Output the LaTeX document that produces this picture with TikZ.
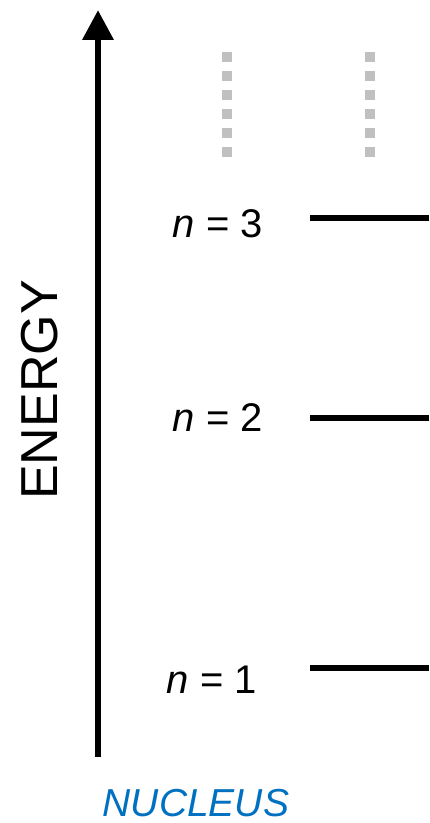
\documentclass[tikz,border=0pt]{standalone}
\usepackage{fontspec}
\setmainfont{Liberation Sans}
\usepackage{xcolor}
\usetikzlibrary{arrows.meta}
\definecolor{nucleusblue}{HTML}{0070C0}
\definecolor{dotgray}{HTML}{C0C0C0}

\begin{document}
\begin{tikzpicture}[x=0.5pt, y=-0.5pt, line join=round,
  level/.style={line width=2.6pt},
  lvllabel/.style={inner sep=0pt, font=\fontsize{20}{22}\selectfont}]
  \useasboundingbox (0,0) rectangle (429,823);
  \coordinate (O) at (98,757);
  \coordinate (T) at (98,10);
  % energy axis
  \draw[line width=3.3pt, -{Triangle[length=15pt,width=15pt]}] (O) -- (T);
  \node[rotate=90, inner sep=0pt, font=\fontsize{26}{30}\selectfont] (energy) at (40,390) {ENERGY};
  % higher levels, dotted
  \foreach \x in {227,370}
    \foreach \k in {0,...,5}
      \fill[dotgray] (\x-5,52+19*\k) rectangle (\x+5,62+19*\k);
  % levels
  \coordinate (L3) at (310,218);
  \coordinate (L2) at (310,418);
  \coordinate (L1) at (310,668);
  \draw[level] (L3) -- (429,218);
  \draw[level] (L2) -- (429,418);
  \draw[level] (L1) -- (429,668);
  \node[lvllabel] (n3) at (218,224) {\textit{n} = 3};
  \node[lvllabel] (n2) at (218,418) {\textit{n} = 2};
  \node[lvllabel] (n1) at (212,680) {\textit{n} = 1};
  \node[inner sep=0pt, text=nucleusblue, font=\fontsize{19.5}{22}\selectfont\itshape] (nucleus) at (196,803) {NUCLEUS};
\end{tikzpicture}
\end{document}
